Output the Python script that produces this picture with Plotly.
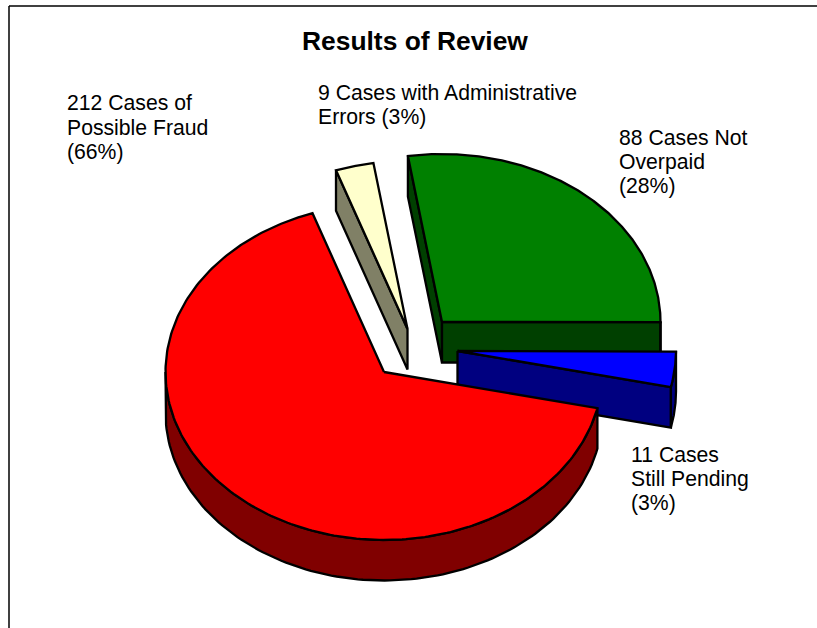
import numpy as np
import plotly.graph_objects as go

categories = ["Possible Fraud", "Administrative Errors", "Not Overpaid", "Still Pending"]
values = [212, 9, 88, 11]
top_colors = ["#FF0000", "#FFFFCC", "#008000", "#0000FF"]
side_colors = ["#800000", "#808066", "#004000", "#000080"]
apexes = [(384, 372), (407.5, 329), (442, 322), (457.5, 351)]
draw_order = [1, 2, 3, 0]
label_lines = [
    ("212 Cases of", 67, 102), ("Possible Fraud", 67, 127), ("(66%)", 67, 152),
    ("9 Cases with Administrative", 318, 92.5), ("Errors (3%)", 318, 117),
    ("88 Cases Not", 619, 137), ("Overpaid", 619, 161.5), ("(28%)", 619, 186),
    ("11 Cases", 631, 454), ("Still Pending", 631, 478.5), ("(3%)", 631, 503),
]
title = "Results of Review"

RX, RY, DEPTH = 218.5, 168, 40.5
START = 102.4  # clockwise from top, where the first slice begins
LINE = 2.3


def pt(a, c, dz=0.0):
    r = np.radians(a)
    return c[0] + RX * np.sin(r), c[1] - RY * np.cos(r) + dz


fig = go.Figure()


def poly(xs, ys, fill):
    fig.add_trace(go.Scatter(x=xs, y=ys, mode="lines", fill="toself", fillcolor=fill,
                             line=dict(color="black", width=LINE), hoverinfo="skip",
                             showlegend=False))


total = sum(values)
spans = []
a = START
for v in values:
    spans.append((a, a + v / total * 360))
    a += v / total * 360

for i in draw_order:
    a0, a1 = spans[i]
    c = apexes[i]
    side = side_colors[i]
    cx, cy = c
    # cut walls that face the viewer
    for ang, visible in ((a0, np.sin(np.radians(a0)) < 0), (a1, np.sin(np.radians(a1)) > 0)):
        if visible:
            px, py = pt(ang, c)
            poly([cx, px, px, cx, cx], [cy, py, py + DEPTH, cy + DEPTH, cy], side)
    # outer wall on the front half of the rim
    for k in (0, 360):
        lo = max(a0, 90 + k)
        hi = min(a1, 270 + k)
        if lo < hi:
            arc = np.linspace(lo, hi, 120)
            xs, ys = pt(arc, c)
            poly(list(xs) + list(xs[::-1]) + [xs[0]],
                 list(ys) + list((ys + DEPTH)[::-1]) + [ys[0]], side)
    # top surface
    arc = np.linspace(a0, a1, 240)
    xs, ys = pt(arc, c)
    poly([cx] + list(xs) + [cx], [cy] + list(ys) + [cy], top_colors[i])

for text, x, y in label_lines:
    fig.add_annotation(x=x, y=y, text=text, showarrow=False, xanchor="left", yanchor="middle",
                       xshift=-2,
                       font=dict(family="Liberation Sans", size=21.2, color="black"))
fig.add_annotation(x=415, y=41, text="<b>" + title + "</b>", showarrow=False, xanchor="center",
                   yanchor="middle", font=dict(family="Liberation Sans", size=26.4, color="black"))

fig.update_layout(
    width=817, height=628, margin=dict(l=0, r=0, t=0, b=0),
    paper_bgcolor="white", plot_bgcolor="white", showlegend=False,
    xaxis=dict(range=[0, 817], visible=False, fixedrange=True),
    yaxis=dict(range=[628, 0], visible=False, fixedrange=True),
    shapes=[
        dict(type="line", x0=9, y0=6, x1=9, y1=628, line=dict(color="black", width=1.5)),
        dict(type="line", x0=9, y0=6, x1=817, y1=6, line=dict(color="black", width=1.5)),
    ],
)
fig.write_html("out.html", config={"displayModeBar": False},
               post_script="document.body.style.margin='0';document.body.style.overflow='hidden';")
